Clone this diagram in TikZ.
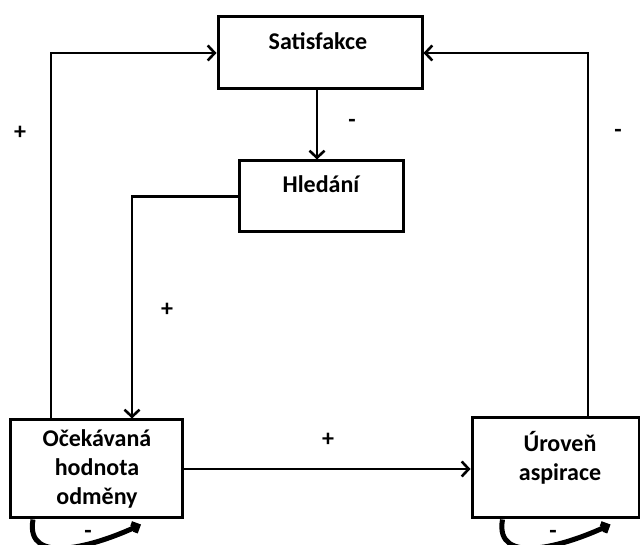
\documentclass[tikz,border=0pt]{standalone}
\usepackage{fontspec}
\setmainfont{Carlito}
\usetikzlibrary{arrows.meta}
\begin{document}
\begin{tikzpicture}[x=1pt,y=1pt,
  box/.style={draw=black, line width=3pt, inner sep=0pt},
  lbl/.style={font=\fontsize{24}{29}\selectfont\bfseries, inner sep=0pt, anchor=base, align=center},
  arr/.style={line width=2.6pt, -{Straight Barb[length=7pt,width=15pt]}},
  sign/.style={font=\fontsize{24}{26}\selectfont\bfseries, inner sep=0pt},
  selfloop/.style={line width=5pt, -{Straight Barb[length=5pt,width=10pt]}}
]
\path[use as bounding box, clip] (0,0) rectangle (640,545);

\node[box, minimum width=204pt, minimum height=72pt] (sat) at (320,492) {};
\node[lbl] (satT) at (318,495) {Satisfakce};
\node[box, minimum width=164pt, minimum height=71pt] (hled) at (321,348.5) {};
\node[lbl] (hledT) at (321,352) {Hledání};
\node[box, minimum width=172pt, minimum height=98pt] (ocek) at (96,76) {};
\node[lbl] (ocekT) at (97,40) {Očekávaná\\hodnota\\odměny};
\node[box, minimum width=167pt, minimum height=100pt] (urov) at (555.5,77) {};
\node[lbl] (urovT) at (560,64) {Úroveň\\aspirace};

\draw[arr] ([xshift=-3pt]sat.south) -- ([xshift=-4pt]hled.north);
\draw[arr] (hled.west) -| ([xshift=36pt]ocek.north);
\draw[arr] ([xshift=-45pt]ocek.north) |- (sat.west);
\draw[arr] (ocek.east) -- (ocek.east -| urov.west);
\draw[arr] ([xshift=32.5pt]urov.north) |- (sat.east);

\draw[selfloop] ([xshift=-63pt]ocek.south) to[out=-100,in=205,looseness=1.15] ([xshift=45pt,yshift=-5pt]ocek.south);
\draw[selfloop] ([xshift=-53pt]urov.south) to[out=-100,in=205,looseness=1.15] ([xshift=55pt,yshift=-5pt]urov.south);

\node[sign] (p1) at (20,412) {+};
\node[sign] (m1) at (352,422) {-};
\node[sign] (p2) at (167,235) {+};
\node[sign] (p3) at (328,105) {+};
\node[sign] (m2) at (618,412) {-};
\node[sign] (m3) at (88,11) {-};
\node[sign] (m4) at (553,11) {-};
\end{tikzpicture}
\end{document}
